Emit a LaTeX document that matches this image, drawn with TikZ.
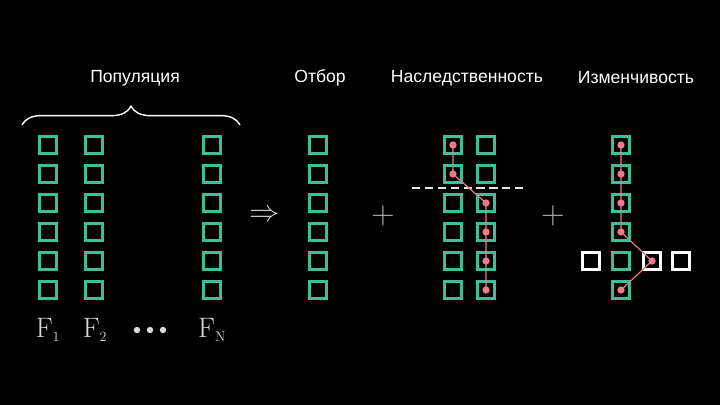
\documentclass[tikz,border=0pt]{standalone}
\usepackage{fontspec}
\setsansfont{Liberation Sans}
\usetikzlibrary{decorations.pathreplacing}
\definecolor{teal1}{HTML}{3DBF9A}
\definecolor{pinkc}{HTML}{F07A88}
\begin{document}
\begin{tikzpicture}[x=0.03cm,y=-0.03cm,
  cell/.style={draw=teal1,line width=2.4pt,minimum size=0.5cm,inner sep=0,rectangle},
  wcell/.style={cell,draw=white},
  dot/.style={circle,fill=pinkc,inner sep=0,minimum size=0.22cm},
  lnk/.style={draw=pinkc,line width=1pt},
  lab/.style={text=white,font=\sffamily\fontsize{15}{17}\selectfont},
  flab/.style={text=white!85!black,font=\fontsize{24}{26}\selectfont},
  sym/.style={text=white!65!black,scale=2.6,inner sep=0}]
\fill[black] (0,0) rectangle (720,405);
\useasboundingbox (0,0) rectangle (720,405);
\foreach \c/\x in {a/48,b/94,c/212,d/318,e/453,f/486,g/621}{
  \foreach \r/\y in {1/145,2/174,3/203,4/232,5/261,6/290}{
    \node[cell] (\c\r) at (\x,\y) {};
  }
}
\node[wcell] (m1) at (591,261) {};
\node[wcell] (m2) at (652,261) {};
\node[wcell] (m3) at (681,261) {};
% heredity
\draw[white!90!black,line width=1.2pt,dash pattern=on 7pt off 4pt] (412,188) coordinate (dl) -- (527,188) coordinate (dr);
\draw[lnk] (e1.center) -- (e2.center) -- (f3.center) -- (f6.center);
\foreach \n in {e1,e2,f3,f4,f5,f6} \node[dot] at (\n.center) {};
% mutation
\draw[lnk] (g1.center) -- (g4.center) -- (m2.center) -- (g6.center);
\foreach \n in {g1,g2,g3,g4,m2,g6} \node[dot] at (\n.center) {};
% brace
\draw[white,line width=1.2pt,decorate,decoration={brace,amplitude=16pt}] (22,125) coordinate (bl) -- (240,125) coordinate (br);
% labels
\node[lab] (t1) at (135,78) {Популяция};
\node[lab] (t2) at (320,78) {Отбор};
\node[lab] (t3) at (467,78) {Наследственность};
\node[lab] (t4) at (636,78) {Изменчивость};
% symbols
\node[sym,text=white!80!black] (imp) at (265,216) {$\Rightarrow$};
\node[sym] (p1) at (383,216) {$+$};
\node[sym] (p2) at (553,216) {$+$};
\node[flab] (f1) at (48,330) {F$_{\scriptscriptstyle 1}$};
\node[flab] (f2) at (95,330) {F$_{\scriptscriptstyle 2}$};
\node[flab] (f3l) at (212,330) {F$_{\scriptscriptstyle\mathrm{N}}$};
\foreach \x in {137,150,163} \fill[white!85!black] (\x,330) circle (3.2);
\end{tikzpicture}
\end{document}
